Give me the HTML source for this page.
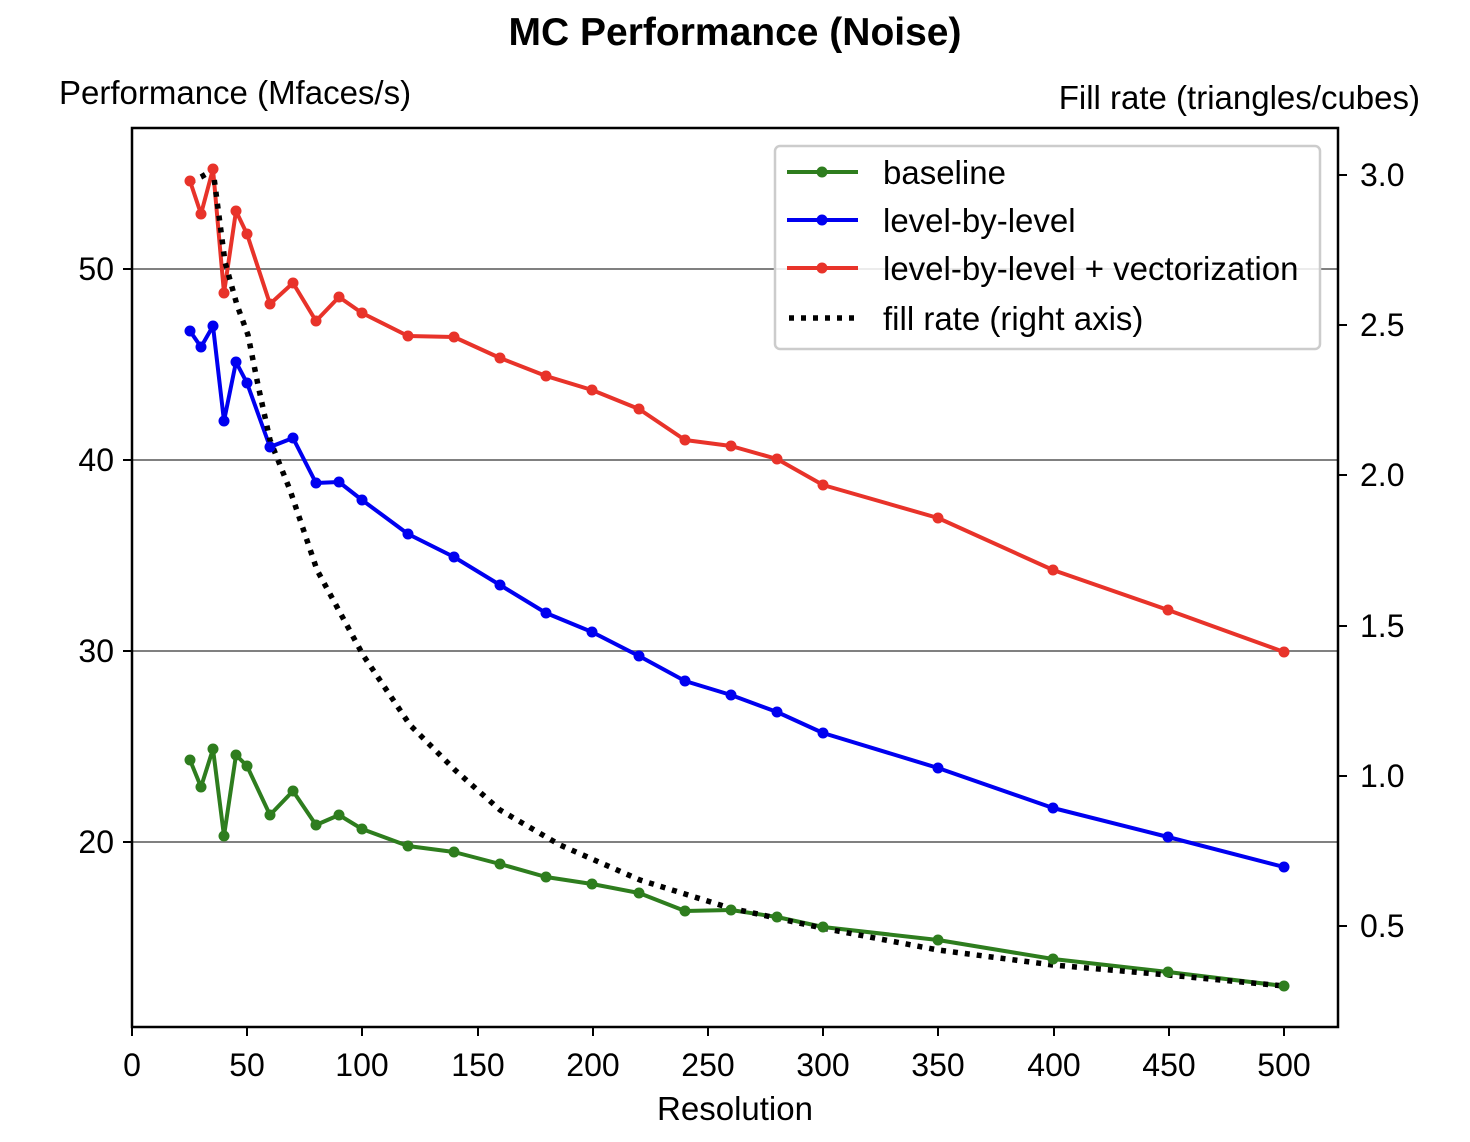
<!DOCTYPE html>
<html><head><style>body{margin:0;background:#fff}svg{display:block;font-family:"Liberation Sans",sans-serif}</style></head><body>
<svg width="1470" height="1142" viewBox="0 0 1470 1142">
<rect width="1470" height="1142" fill="#fff"/>
<text x="735" y="45" font-size="39" font-weight="bold" text-anchor="middle">MC Performance (Noise)</text>
<text x="59" y="104" font-size="33">Performance (Mfaces/s)</text>
<text x="1420" y="109" font-size="33" text-anchor="end">Fill rate (triangles/cubes)</text>
<g stroke="#808080" stroke-width="2">
<line x1="132" y1="269" x2="1338" y2="269"/><line x1="132" y1="460" x2="1338" y2="460"/><line x1="132" y1="651" x2="1338" y2="651"/><line x1="132" y1="842" x2="1338" y2="842"/>
</g>
<g fill="none" stroke-width="4" stroke-linejoin="round">
<polyline stroke="#2e7d1e" points="190,760 201,787 213,749 224,836 236,755 247,766 270,815 293,791 316,825 339,815 362,829 408,846 454,852 500,864 546,877 592,884 639,893 685,911 731,910 777,917 823,927 938,940 1053,959 1168,972 1284,986"/>
<polyline stroke="#0000f0" points="190,331 201,347 213,326 224,421 236,362 247,383 270,447 293,438 316,483 339,482 362,500 408,534 454,557 500,585 546,613 592,632 639,656 685,681 731,695 777,712 823,733 938,768 1053,808 1168,837 1284,867"/>
<polyline stroke="#e8332a" points="190,181 201,214 213,169 224,293 236,211 247,234 270,304 293,283 316,321 339,297 362,313 408,336 454,337 500,358 546,376 592,390 639,409 685,440 731,446 777,459 823,485 938,518 1053,570 1168,610 1284,652"/>
<polyline stroke="#000" stroke-width="5.5" stroke-dasharray="5,7" points="190,182 201,177 213,170 225,262 237,305 248,335 258,385 270,440 290,490 317,570 363,655 410,725 455,770 500,810 560,845 640,880 730,908 822,928 938,950 1053,965 1168,975 1284,986"/>
</g>
<g fill="#2e7d1e"><circle cx="190" cy="760" r="5.5"/><circle cx="201" cy="787" r="5.5"/><circle cx="213" cy="749" r="5.5"/><circle cx="224" cy="836" r="5.5"/><circle cx="236" cy="755" r="5.5"/><circle cx="247" cy="766" r="5.5"/><circle cx="270" cy="815" r="5.5"/><circle cx="293" cy="791" r="5.5"/><circle cx="316" cy="825" r="5.5"/><circle cx="339" cy="815" r="5.5"/><circle cx="362" cy="829" r="5.5"/><circle cx="408" cy="846" r="5.5"/><circle cx="454" cy="852" r="5.5"/><circle cx="500" cy="864" r="5.5"/><circle cx="546" cy="877" r="5.5"/><circle cx="592" cy="884" r="5.5"/><circle cx="639" cy="893" r="5.5"/><circle cx="685" cy="911" r="5.5"/><circle cx="731" cy="910" r="5.5"/><circle cx="777" cy="917" r="5.5"/><circle cx="823" cy="927" r="5.5"/><circle cx="938" cy="940" r="5.5"/><circle cx="1053" cy="959" r="5.5"/><circle cx="1168" cy="972" r="5.5"/><circle cx="1284" cy="986" r="5.5"/></g>
<g fill="#0000f0"><circle cx="190" cy="331" r="5.5"/><circle cx="201" cy="347" r="5.5"/><circle cx="213" cy="326" r="5.5"/><circle cx="224" cy="421" r="5.5"/><circle cx="236" cy="362" r="5.5"/><circle cx="247" cy="383" r="5.5"/><circle cx="270" cy="447" r="5.5"/><circle cx="293" cy="438" r="5.5"/><circle cx="316" cy="483" r="5.5"/><circle cx="339" cy="482" r="5.5"/><circle cx="362" cy="500" r="5.5"/><circle cx="408" cy="534" r="5.5"/><circle cx="454" cy="557" r="5.5"/><circle cx="500" cy="585" r="5.5"/><circle cx="546" cy="613" r="5.5"/><circle cx="592" cy="632" r="5.5"/><circle cx="639" cy="656" r="5.5"/><circle cx="685" cy="681" r="5.5"/><circle cx="731" cy="695" r="5.5"/><circle cx="777" cy="712" r="5.5"/><circle cx="823" cy="733" r="5.5"/><circle cx="938" cy="768" r="5.5"/><circle cx="1053" cy="808" r="5.5"/><circle cx="1168" cy="837" r="5.5"/><circle cx="1284" cy="867" r="5.5"/></g>
<g fill="#e8332a"><circle cx="190" cy="181" r="5.5"/><circle cx="201" cy="214" r="5.5"/><circle cx="213" cy="169" r="5.5"/><circle cx="224" cy="293" r="5.5"/><circle cx="236" cy="211" r="5.5"/><circle cx="247" cy="234" r="5.5"/><circle cx="270" cy="304" r="5.5"/><circle cx="293" cy="283" r="5.5"/><circle cx="316" cy="321" r="5.5"/><circle cx="339" cy="297" r="5.5"/><circle cx="362" cy="313" r="5.5"/><circle cx="408" cy="336" r="5.5"/><circle cx="454" cy="337" r="5.5"/><circle cx="500" cy="358" r="5.5"/><circle cx="546" cy="376" r="5.5"/><circle cx="592" cy="390" r="5.5"/><circle cx="639" cy="409" r="5.5"/><circle cx="685" cy="440" r="5.5"/><circle cx="731" cy="446" r="5.5"/><circle cx="777" cy="459" r="5.5"/><circle cx="823" cy="485" r="5.5"/><circle cx="938" cy="518" r="5.5"/><circle cx="1053" cy="570" r="5.5"/><circle cx="1168" cy="610" r="5.5"/><circle cx="1284" cy="652" r="5.5"/></g>
<rect x="132" y="128" width="1206" height="899" fill="none" stroke="#000" stroke-width="2.5"/>
<g stroke="#000" stroke-width="2">
<line x1="132" y1="1027" x2="132" y2="1036"/><line x1="247" y1="1027" x2="247" y2="1036"/><line x1="362" y1="1027" x2="362" y2="1036"/><line x1="478" y1="1027" x2="478" y2="1036"/><line x1="593" y1="1027" x2="593" y2="1036"/><line x1="708" y1="1027" x2="708" y2="1036"/><line x1="823" y1="1027" x2="823" y2="1036"/><line x1="938" y1="1027" x2="938" y2="1036"/><line x1="1054" y1="1027" x2="1054" y2="1036"/><line x1="1169" y1="1027" x2="1169" y2="1036"/><line x1="1284" y1="1027" x2="1284" y2="1036"/>
<line x1="123" y1="269" x2="132" y2="269"/><line x1="123" y1="460" x2="132" y2="460"/><line x1="123" y1="651" x2="132" y2="651"/><line x1="123" y1="842" x2="132" y2="842"/>
<line x1="1338" y1="175" x2="1347" y2="175"/><line x1="1338" y1="325" x2="1347" y2="325"/><line x1="1338" y1="475" x2="1347" y2="475"/><line x1="1338" y1="626" x2="1347" y2="626"/><line x1="1338" y1="776" x2="1347" y2="776"/><line x1="1338" y1="926" x2="1347" y2="926"/>
</g>
<g font-size="32" text-anchor="middle">
<text x="132" y="1076">0</text><text x="247" y="1076">50</text><text x="362" y="1076">100</text><text x="478" y="1076">150</text><text x="593" y="1076">200</text><text x="708" y="1076">250</text><text x="823" y="1076">300</text><text x="938" y="1076">350</text><text x="1054" y="1076">400</text><text x="1169" y="1076">450</text><text x="1284" y="1076">500</text>
<text x="735" y="1120" font-size="33">Resolution</text>
</g>
<g font-size="32" text-anchor="end">
<text x="114" y="280">50</text><text x="114" y="471">40</text><text x="114" y="662">30</text><text x="114" y="853">20</text>
</g>
<g font-size="32">
<text x="1360" y="186">3.0</text><text x="1360" y="336">2.5</text><text x="1360" y="486">2.0</text><text x="1360" y="637">1.5</text><text x="1360" y="787">1.0</text><text x="1360" y="937">0.5</text>
</g>
<rect x="775" y="146" width="545" height="203" rx="5" fill="#fff" fill-opacity="0.85" stroke="#ccc" stroke-width="2.5"/>
<g stroke-width="4">
<line x1="787" y1="172" x2="858" y2="172" stroke="#2e7d1e"/><circle cx="822" cy="172" r="5.5" fill="#2e7d1e"/>
<line x1="787" y1="220" x2="858" y2="220" stroke="#0000f0"/><circle cx="822" cy="220" r="5.5" fill="#0000f0"/>
<line x1="787" y1="268" x2="858" y2="268" stroke="#e8332a"/><circle cx="822" cy="268" r="5.5" fill="#e8332a"/>
<line x1="789" y1="318" x2="858" y2="318" stroke="#000" stroke-width="5.5" stroke-dasharray="5,7"/>
</g>
<g font-size="33">
<text x="883" y="184">baseline</text><text x="883" y="232">level-by-level</text><text x="883" y="280">level-by-level + vectorization</text><text x="883" y="330">fill rate (right axis)</text>
</g>
</svg>
</body></html>
